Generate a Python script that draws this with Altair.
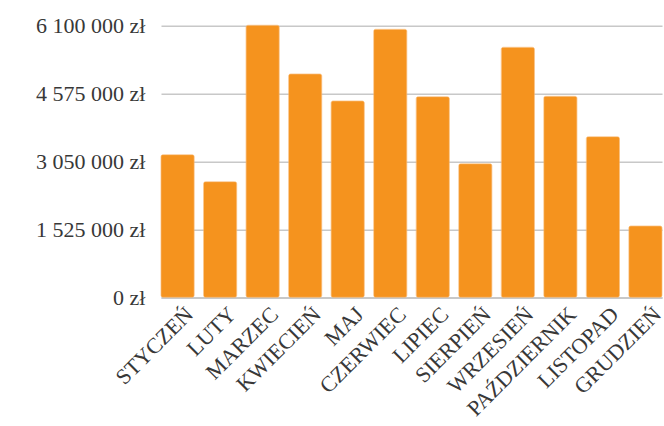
import altair as alt
import pandas as pd

months = ["STYCZEŃ", "LUTY", "MARZEC", "KWIECIEŃ", "MAJ", "CZERWIEC",
          "LIPIEC", "SIERPIEŃ", "WRZESIEŃ", "PAŹDZIERNIK", "LISTOPAD", "GRUDZIEŃ"]
values = [3203000, 2596000, 6110000, 5015000, 4409000, 6019000,
          4505000, 3000000, 5615000, 4514000, 3607000, 1601000]
y_ticks = [0, 1525000, 3050000, 4575000, 6100000]

df = pd.DataFrame({"month": months, "value": values})

FONT = "Liberation Serif"
TXT = "#383838"

label_expr = ("replace(format(datum.value, ',d'), /,/g, ' ') + ' zł'")

chart = alt.Chart(df).mark_bar(
    color="#F5931E", cornerRadius=2, stroke="#F8B060", strokeWidth=0.6
).encode(
    x=alt.X("month:N", sort=months, title=None,
            scale=alt.Scale(paddingInner=0.22, paddingOuter=0),
            axis=alt.Axis(labelAngle=-45, labelFont=FONT, labelFontSize=22,
                          labelColor=TXT, ticks=False, domainColor="#C8C8C8",
                          domainWidth=1.5, labelPadding=6, labelAlign="right",
                          labelBaseline="top", labelOffset=5)),
    y=alt.Y("value:Q", title=None,
            scale=alt.Scale(domain=[0, 6100000], nice=False),
            axis=alt.Axis(values=y_ticks, labelExpr=label_expr, labelFont=FONT,
                          labelFontSize=22, labelColor=TXT, ticks=False,
                          domain=False, gridColor="#C8C8C8", gridWidth=1.5,
                          labelPadding=16)),
).properties(
    width=501, height=271.6,
    autosize=alt.AutoSizeParams(type="none"),
    padding={"left": 161, "top": 25.7, "right": 2, "bottom": 128.7},
).configure_view(stroke=None)

chart.save("out.html", embed_options={"renderer": "svg", "actions": False})
